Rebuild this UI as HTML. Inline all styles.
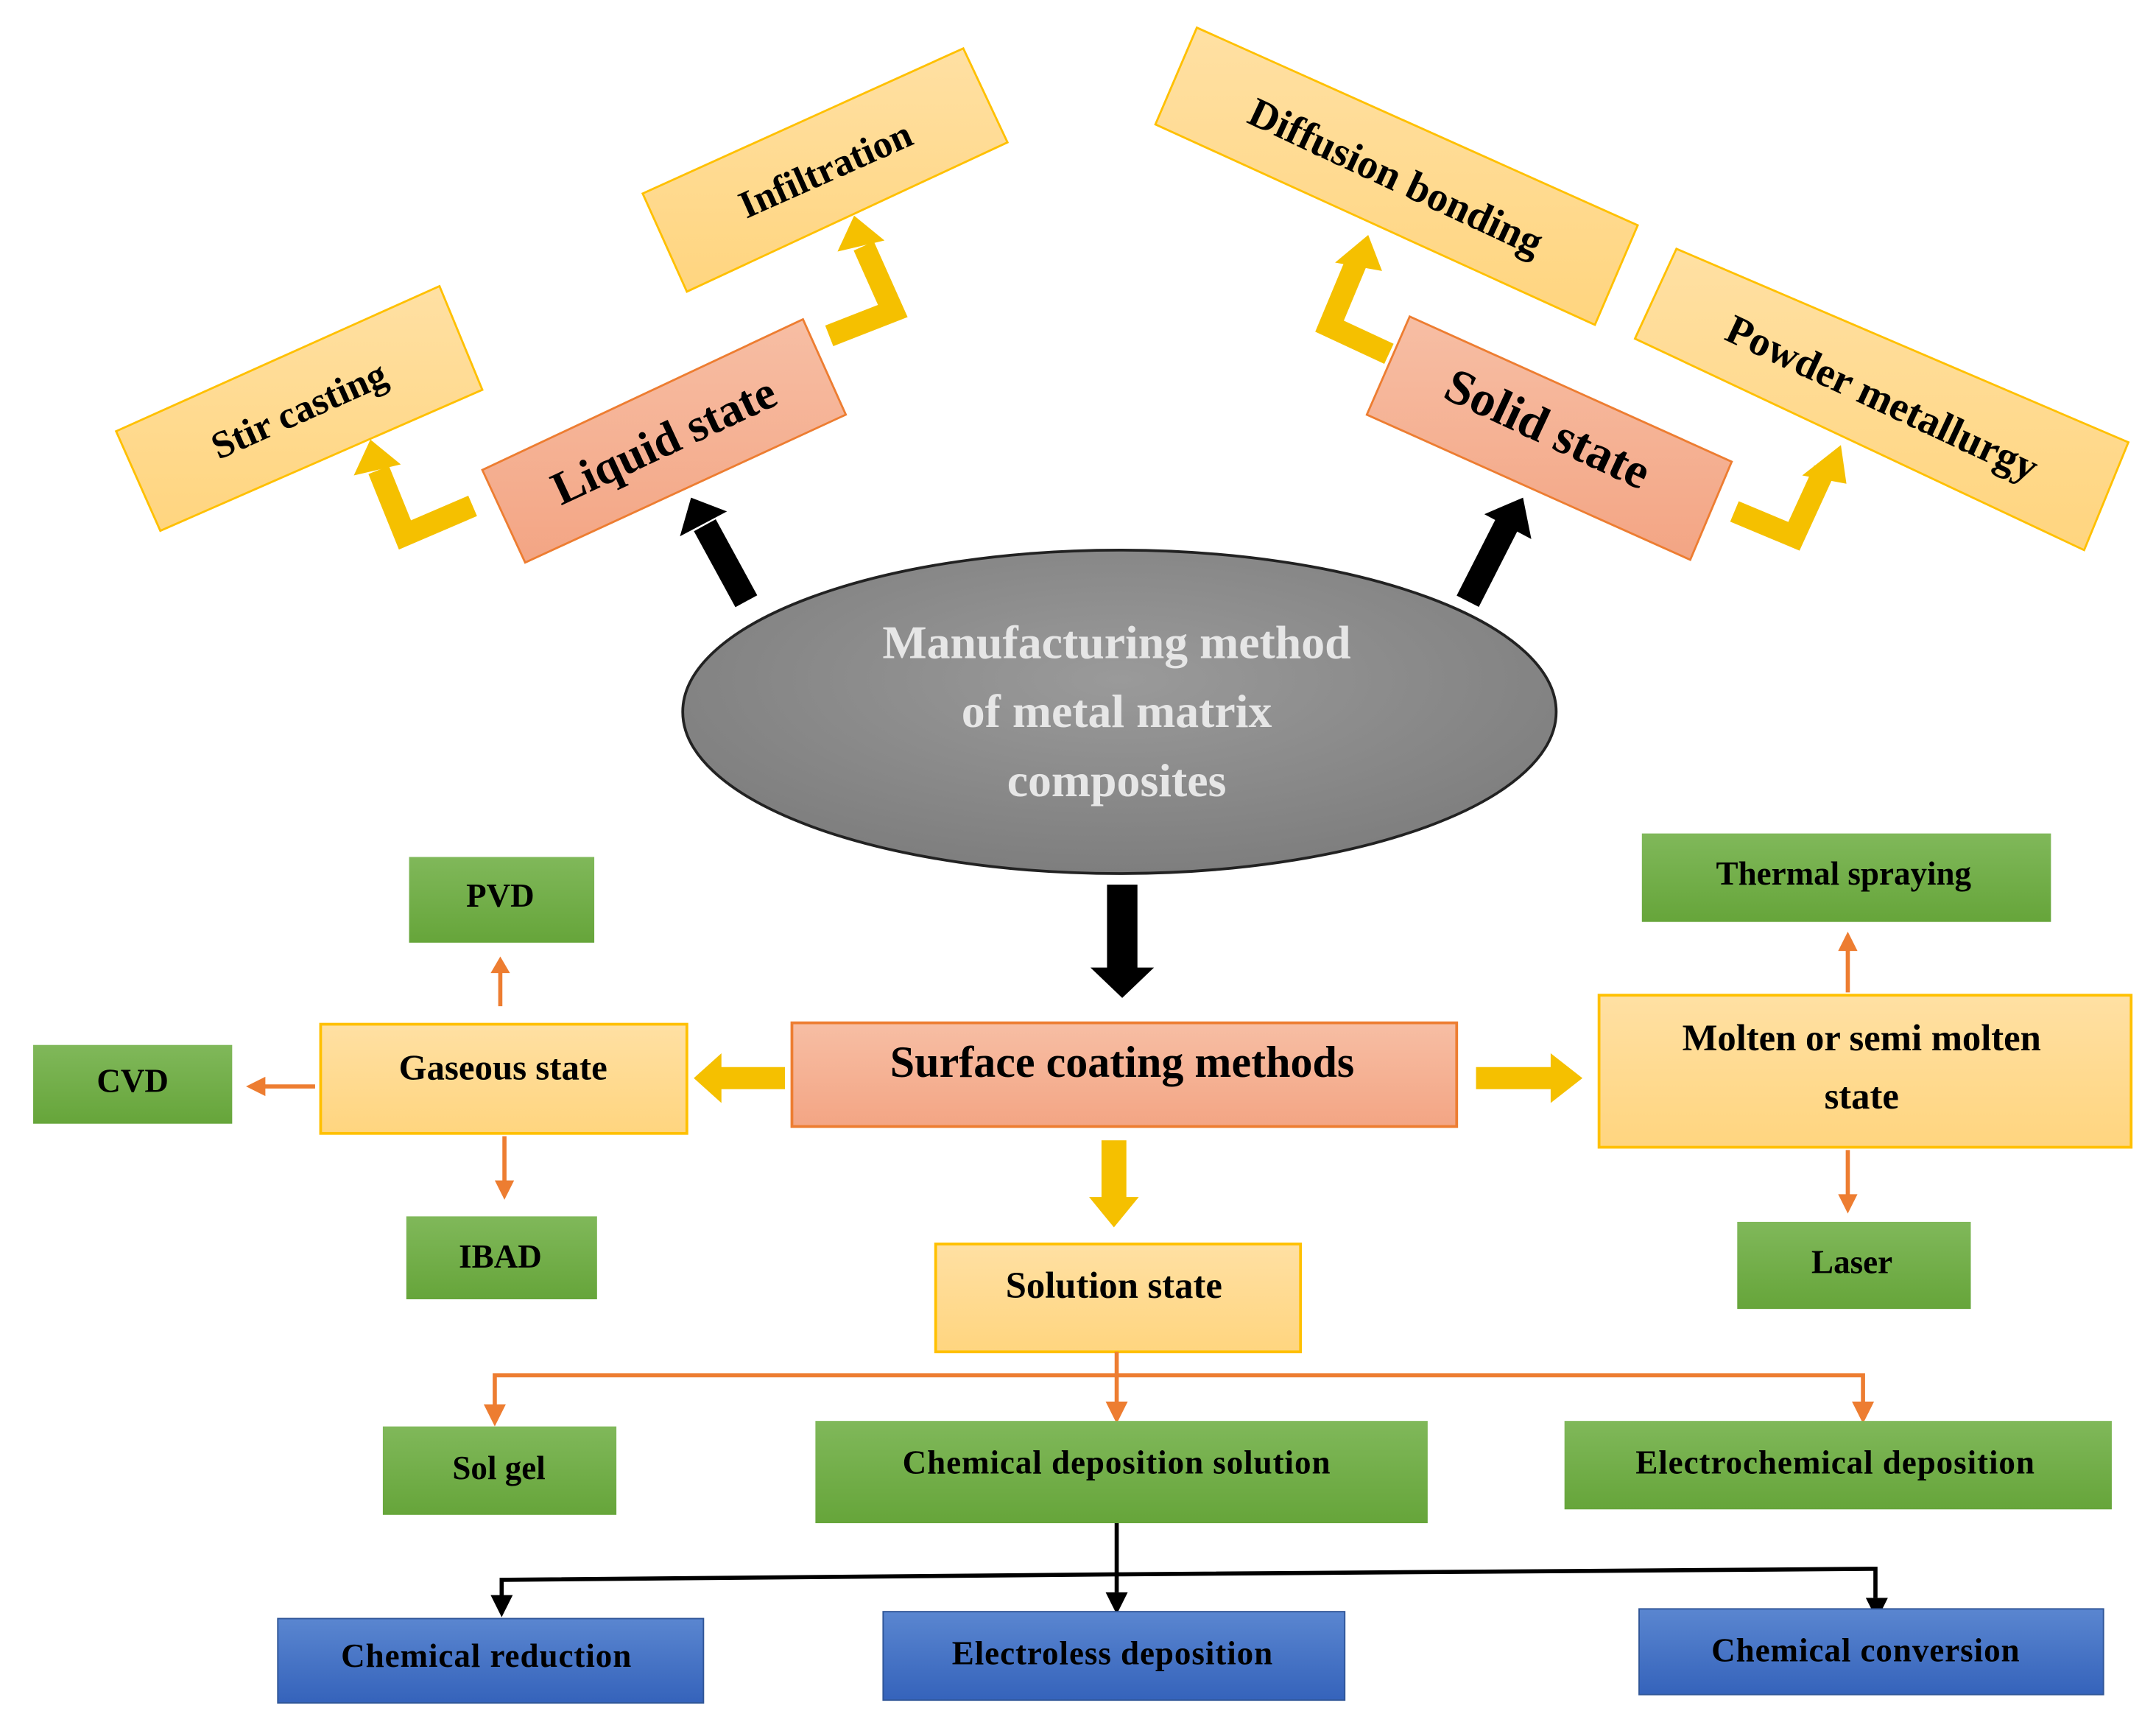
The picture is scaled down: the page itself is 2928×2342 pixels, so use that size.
<!DOCTYPE html>
<html><head><meta charset="utf-8"><style>html,body{margin:0;padding:0;background:#fff}svg{display:block}</style></head>
<body>
<svg width="2928" height="2342" viewBox="0 0 1560 1248" preserveAspectRatio="none" xmlns="http://www.w3.org/2000/svg" font-family="'Liberation Serif', serif" font-weight="bold">
<defs>
<linearGradient id="y" x1="0" y1="0" x2="0" y2="1"><stop offset="0" stop-color="#ffe0a3"/><stop offset="1" stop-color="#ffd57f"/></linearGradient>
<linearGradient id="s" x1="0" y1="0" x2="0" y2="1"><stop offset="0" stop-color="#f7bea4"/><stop offset="1" stop-color="#f3a584"/></linearGradient>
<linearGradient id="g" x1="0" y1="0" x2="0" y2="1"><stop offset="0" stop-color="#80b85a"/><stop offset="1" stop-color="#66a53a"/></linearGradient>
<linearGradient id="b" x1="0" y1="0" x2="0" y2="1"><stop offset="0" stop-color="#5a86d0"/><stop offset="1" stop-color="#3563bb"/></linearGradient>
<radialGradient id="e" cx="0.5" cy="0.4" r="0.6"><stop offset="0" stop-color="#9a9a9a"/><stop offset="1" stop-color="#7e7e7e"/></radialGradient>
</defs>

<!-- top rotated boxes -->
<polygon points="84,312 318,207 349,282 116,384" fill="url(#y)" stroke="#ffc000" stroke-width="1.5"/>
<text x="216" y="306" font-size="28" text-anchor="middle" transform="rotate(-24 216 296)">Stir casting</text>
<polygon points="465,140 697,35 729,103 497,211" fill="url(#y)" stroke="#ffc000" stroke-width="1.5"/>
<text x="597" y="132" font-size="28" text-anchor="middle" transform="rotate(-24 597 122)">Infiltration</text>
<polygon points="349,340 581,231 612,300 380,407" fill="url(#s)" stroke="#ed7d31" stroke-width="1.5"/>
<text x="480" y="330" font-size="34" text-anchor="middle" transform="rotate(-25 480 318)">Liquid state</text>

<polygon points="836,90 866,20 1185,163 1154,235" fill="url(#y)" stroke="#ffc000" stroke-width="1.5"/>
<text x="1010" y="138" font-size="30" text-anchor="middle" transform="rotate(25 1010 128)">Diffusion bonding</text>
<polygon points="1183,245 1213,180 1540,320 1508,398" fill="url(#y)" stroke="#ffc000" stroke-width="1.5"/>
<text x="1362" y="298" font-size="30" text-anchor="middle" transform="rotate(25 1362 288)">Powder metallurgy</text>
<polygon points="989,300 1020,229 1253,334 1223,405" fill="url(#s)" stroke="#ed7d31" stroke-width="1.5"/>
<text x="1120" y="322" font-size="36" text-anchor="middle" transform="rotate(25 1120 310)">Solid state</text>

<!-- yellow bent arrows -->
<g fill="none" stroke="#f5c000" stroke-width="16" stroke-linejoin="miter">
<polyline points="342,366 293,387 274,340"/>
<polyline points="600,243 646,225 625,178"/>
<polyline points="1005,256 962,236 982,188"/>
<polyline points="1255,370 1298,388 1320,340"/>
</g>
<g fill="#f5c000">
<polygon points="256,344 268,318 290,336"/>
<polygon points="606,182 618,156 640,174"/>
<polygon points="966,190 990,170 1000,196"/>
<polygon points="1304,344 1332,322 1336,350"/>
</g>

<!-- black arrows -->
<line x1="540" y1="435" x2="510" y2="380" stroke="#000" stroke-width="18"/>
<polygon points="492,388 500,360 526,370" fill="#000"/>
<line x1="1062" y1="435" x2="1090" y2="380" stroke="#000" stroke-width="18"/>
<polygon points="1074,372 1102,360 1108,390" fill="#000"/>

<!-- ellipse -->
<ellipse cx="810" cy="515" rx="316" ry="117" fill="url(#e)" stroke="#222" stroke-width="2"/>
<g font-size="34" fill="#e6e6e6" text-anchor="middle">
<text x="808" y="476">Manufacturing method</text>
<text x="808" y="526">of metal matrix</text>
<text x="808" y="576">composites</text>
</g>

<rect x="801" y="640" width="22" height="62" fill="#000"/>
<polygon points="789,700 835,700 812,722" fill="#000"/>

<!-- surface coating -->
<rect x="573" y="740" width="481" height="75" fill="url(#s)" stroke="#ed7d31" stroke-width="2"/>
<text x="812" y="779" font-size="32" text-anchor="middle">Surface coating methods</text>
<rect x="520" y="772" width="48" height="16" fill="#f5c000"/>
<polygon points="522,762 522,798 502,780" fill="#f5c000"/>
<rect x="1068" y="772" width="56" height="16" fill="#f5c000"/>
<polygon points="1122,762 1122,798 1145,780" fill="#f5c000"/>
<rect x="797" y="825" width="18" height="42" fill="#f5c000"/>
<polygon points="788,866 824,866 806,888" fill="#f5c000"/>

<!-- gaseous -->
<rect x="232" y="741" width="265" height="79" fill="url(#y)" stroke="#ffc000" stroke-width="2"/>
<text x="364" y="781" font-size="26" text-anchor="middle">Gaseous state</text>
<rect x="296" y="620" width="134" height="62" fill="url(#g)"/>
<text x="362" y="656" font-size="24" text-anchor="middle">PVD</text>
<rect x="24" y="756" width="144" height="57" fill="url(#g)"/>
<text x="96" y="790" font-size="24" text-anchor="middle">CVD</text>
<rect x="294" y="880" width="138" height="60" fill="url(#g)"/>
<text x="362" y="917" font-size="24" text-anchor="middle">IBAD</text>
<g stroke="#ed7d31" stroke-width="3" fill="#ed7d31">
<line x1="362" y1="728" x2="362" y2="702"/><polygon points="355,704 369,704 362,692" stroke="none"/>
<line x1="228" y1="786" x2="190" y2="786"/><polygon points="192,779 192,793 178,786" stroke="none"/>
<line x1="365" y1="822" x2="365" y2="856"/><polygon points="358,854 372,854 365,868" stroke="none"/>
<line x1="1337" y1="718" x2="1337" y2="686"/><polygon points="1330,688 1344,688 1337,674" stroke="none"/>
<line x1="1337" y1="832" x2="1337" y2="866"/><polygon points="1330,864 1344,864 1337,878" stroke="none"/>
</g>

<!-- molten -->
<rect x="1157" y="720" width="385" height="110" fill="url(#y)" stroke="#ffc000" stroke-width="2"/>
<text x="1347" y="760" font-size="27" text-anchor="middle">Molten or semi molten</text>
<text x="1347" y="802" font-size="27" text-anchor="middle">state</text>
<rect x="1188" y="603" width="296" height="64" fill="url(#g)"/>
<text x="1334" y="640" font-size="24" text-anchor="middle">Thermal spraying</text>
<rect x="1257" y="884" width="169" height="63" fill="url(#g)"/>
<text x="1340" y="921" font-size="24" text-anchor="middle">Laser</text>

<!-- solution -->
<rect x="677" y="900" width="264" height="78" fill="url(#y)" stroke="#ffc000" stroke-width="2"/>
<text x="806" y="939" font-size="27" text-anchor="middle">Solution state</text>
<g stroke="#ed7d31" stroke-width="3" fill="none">
<polyline points="358,1020 358,995 1348,995 1348,1016"/>
<line x1="808" y1="978" x2="808" y2="1016"/>
</g>
<g fill="#ed7d31">
<polygon points="350,1016 366,1016 358,1032"/>
<polygon points="800,1014 816,1014 808,1030"/>
<polygon points="1340,1014 1356,1014 1348,1030"/>
</g>
<rect x="277" y="1032" width="169" height="64" fill="url(#g)"/>
<text x="361" y="1070" font-size="24" text-anchor="middle">Sol gel</text>
<rect x="590" y="1028" width="443" height="74" fill="url(#g)"/>
<text x="808" y="1066" font-size="24" text-anchor="middle" letter-spacing="0.5">Chemical  deposition  solution</text>
<rect x="1132" y="1028" width="396" height="64" fill="url(#g)"/>
<text x="1328" y="1066" font-size="24" text-anchor="middle" letter-spacing="0.5">Electrochemical  deposition</text>

<!-- black tree -->
<g stroke="#000" stroke-width="3" fill="none">
<polyline points="363,1156 363,1143 808,1139 1357,1135 1357,1156"/>
<line x1="808" y1="1102" x2="808" y2="1152"/>
</g>
<g fill="#000">
<polygon points="355,1154 371,1154 363,1170"/>
<polygon points="800,1152 816,1152 808,1168"/>
<polygon points="1350,1156 1366,1156 1358,1172"/>
</g>
<rect x="201" y="1171" width="308" height="61" fill="url(#b)" stroke="#2f5597" stroke-width="1"/>
<text x="352" y="1206" font-size="24" text-anchor="middle" letter-spacing="0.5">Chemical  reduction</text>
<rect x="639" y="1166" width="334" height="64" fill="url(#b)" stroke="#2f5597" stroke-width="1"/>
<text x="805" y="1204" font-size="24" text-anchor="middle" letter-spacing="0.5">Electroless  deposition</text>
<rect x="1186" y="1164" width="336" height="62" fill="url(#b)" stroke="#2f5597" stroke-width="1"/>
<text x="1350" y="1202" font-size="24" text-anchor="middle" letter-spacing="0.5">Chemical  conversion</text>
</svg>
</body></html>
